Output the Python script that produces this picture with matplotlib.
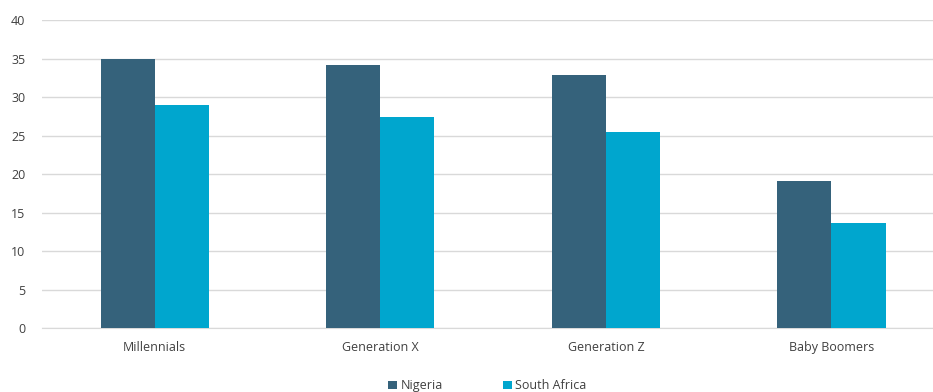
import numpy as np
import matplotlib.pyplot as plt

# dados
geracoes = ['Millennials', 'Generation X', 'Generation Z', 'Baby Boomers']
nigeria = [35.0, 34.1, 32.9, 19.1]
africa_sul = [29.0, 27.4, 25.4, 13.7]
yticks = [0, 5, 10, 15, 20, 25, 30, 35, 40]

plt.rcParams['font.family'] = ['Open Sans', 'DejaVu Sans']

fig = plt.figure(figsize=(9.33, 3.92), dpi=100)
ax = fig.add_axes([0.045, 0.163, 0.955, 0.786])

x = np.arange(len(geracoes))
larg = 0.24
ax.bar(x - larg/2, nigeria, larg, color='#35627B', label='Nigeria', zorder=3)
ax.bar(x + larg/2, africa_sul, larg, color='#00A6CE', label='South Africa', zorder=3)

ax.set_xlim(-0.5, 3.45)
ax.set_ylim(0, 40)
ax.set_yticks(yticks)
ax.set_xticks(x)
ax.set_xticklabels(geracoes)
ax.tick_params(length=0, labelsize=9, colors='#404040')
ax.tick_params(axis='y', pad=12)
ax.tick_params(axis='x', pad=9)
ax.grid(axis='y', color='#d9d9d9', linewidth=1, zorder=0)
for lado in ['top', 'right', 'left']:
    ax.spines[lado].set_visible(False)
ax.spines['bottom'].set_color('#d9d9d9')

ax.legend(loc='upper center', bbox_to_anchor=(0.5, -0.13), ncol=2, frameon=False,
          fontsize=9, handlelength=0.7, handleheight=0.7, handletextpad=0.3,
          columnspacing=4.8, labelcolor='#404040')

fig.savefig('out.png')
